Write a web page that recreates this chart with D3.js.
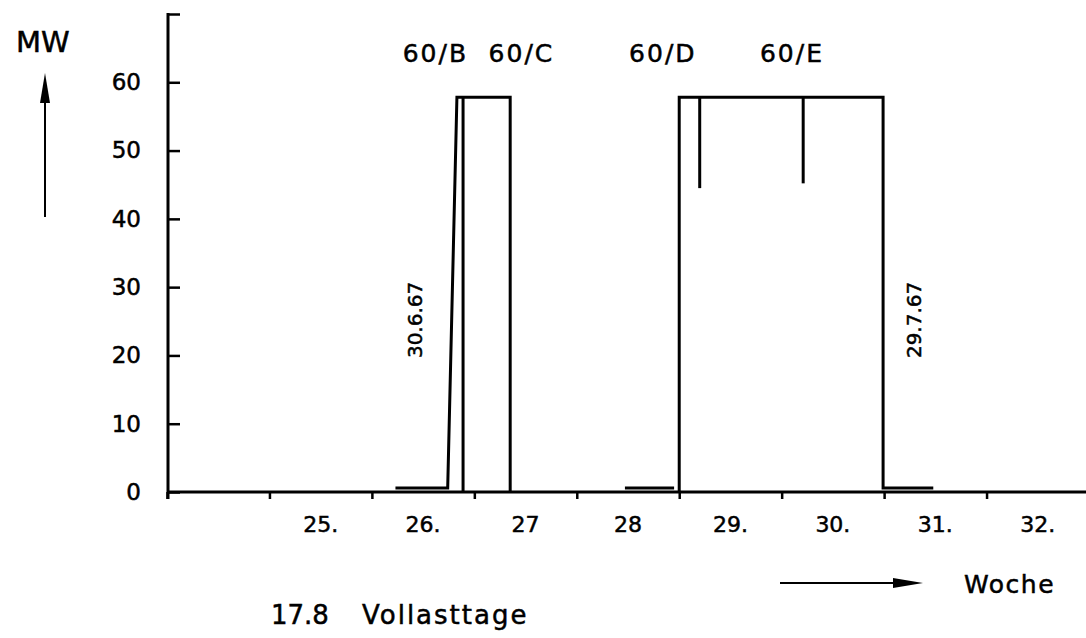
<!DOCTYPE html>
<html>
<head>
<meta charset="utf-8">
<script src="https://cdn.jsdelivr.net/npm/d3@7"></script>
<style>
  body { margin: 0; background: #fff; }
  svg text { font-family: "DejaVu Sans", sans-serif; fill: #000; stroke: #000; stroke-width: 0.5px; }
</style>
</head>
<body>
<div id="chart"></div>
<script>
"use strict";

/* <!-- Data: weeks on x, MW on y --> */
const weekTicks = [24, 25, 26, 27, 28, 29, 30, 31, 32];
const weekLabels = ["25.", "26.", "27", "28", "29.", "30.", "31.", "32."];
const weekLabelAt = [25, 26, 27, 28, 29, 30, 31, 32];
const mwTicks = [0, 10, 20, 30, 40, 50, 60, 70];

/* <!-- Load traces (week, MW) --> */
const runB = [[26.23, 0.6], [26.74, 0.6], [26.83, 57.8], [27.35, 57.8], [27.35, 0]];
const runC = [[26.89, 0], [26.89, 57.8]];
const idleD = [[28.47, 0.6], [28.95, 0.6]];
const runDE = [[29.0, 0], [29.0, 57.8], [30.99, 57.8], [30.99, 0.6], [31.48, 0.6]];
const dips = [[29.2, 44.5], [30.21, 45.2]];

/* <!-- Annotations --> */
const runNames = ["60/B", "60/C", "60/D", "60/E"];
const runNameWeeks = [26.62, 27.46, 28.84, 30.1];
const dateNames = ["30.6.67", "29.7.67"];
const dateWeeks = [26.42, 31.29];

var width = 1086, height = 638;

var svg = d3.select("#chart").append("svg")
  .attr("width", width).attr("height", height)
  .style("background", "#fff");

/* <!-- Scales --> */
const x = d3.scaleLinear().domain([24, 33]).range([167, 1089]);
const y = d3.scaleLinear().domain([0, 70]).range([492, 14]);

/* <!-- X axis --> */
var gx = svg.append("g").attr("transform", `translate(0,${y(0)})`)
  .call(d3.axisBottom(x).tickValues(weekTicks).tickSizeInner(7).tickSizeOuter(0).tickFormat(""));
gx.select(".domain").remove();
gx.selectAll(".tick line").attr("stroke", "#000").attr("stroke-width", 2.5);
svg.append("line")
  .attr("x1", x(24)).attr("x2", width).attr("y1", y(0)).attr("y2", y(0))
  .attr("stroke", "#000").attr("stroke-width", 3);

svg.append("g").selectAll("text").data(weekLabels).join("text")
  .attr("x", (d, i) => x(weekLabelAt[i] + 0.5))
  .attr("y", 532)
  .attr("text-anchor", "middle")
  .style("font-size", "22px")
  .text(d => d);

/* <!-- Y axis --> */
var gy = svg.append("g").attr("transform", `translate(${x(24) + 1},0)`)
  .call(d3.axisLeft(y).tickValues(mwTicks).tickSizeInner(-12).tickSizeOuter(0).tickPadding(27)
    .tickFormat(d => d < 70 ? d : ""));
gy.select(".domain").remove();
gy.attr("font-family", null).attr("font-size", null);
gy.selectAll(".tick line").attr("stroke", "#000").attr("stroke-width", 2.5);
gy.selectAll(".tick text").style("font-size", "23px").attr("fill", "#000");
svg.append("line")
  .attr("x1", x(24) + 1).attr("x2", x(24) + 1).attr("y1", y(70) - 1).attr("y2", y(0) + 7)
  .attr("stroke", "#000").attr("stroke-width", 3);

/* <!-- Traces --> */
var line = d3.line().x(d => x(d[0])).y(d => y(d[1]));
svg.append("g").selectAll("path").data([runB, runC, idleD, runDE]).join("path")
  .attr("d", line)
  .attr("fill", "none")
  .attr("stroke", "#000")
  .attr("stroke-width", 3)
  .attr("stroke-linejoin", "miter");

svg.append("g").selectAll("line").data(dips).join("line")
  .attr("x1", d => x(d[0])).attr("x2", d => x(d[0]))
  .attr("y1", y(57.8)).attr("y2", d => y(d[1]))
  .attr("stroke", "#000").attr("stroke-width", 3);

/* <!-- Run labels --> */
svg.append("g").selectAll("text").data(runNames).join("text")
  .attr("x", (d, i) => x(runNameWeeks[i]))
  .attr("y", 62)
  .attr("text-anchor", "middle")
  .style("font-size", "25px")
  .style("letter-spacing", "2px")
  .text(d => d);

svg.append("g").selectAll("text").data(dateNames).join("text")
  .attr("transform", (d, i) => `translate(${x(dateWeeks[i]) + 7},${y(25.2)}) rotate(-90)`)
  .attr("text-anchor", "middle")
  .style("font-size", "20px")
  .text(d => d);

/* <!-- Axis titles and arrows --> */
svg.append("text").attr("x", 16).attr("y", 52).style("font-size", "29px").text("MW");
svg.append("line").attr("x1", 45).attr("x2", 45).attr("y1", 217).attr("y2", 100)
  .attr("stroke", "#000").attr("stroke-width", 2);
svg.append("path").attr("d", "M45,73 L50,103 L40,103 Z").attr("fill", "#000");

svg.append("text").attr("x", 964).attr("y", 593).style("font-size", "25px")
  .style("letter-spacing", "1.5px").text("Woche");
svg.append("line").attr("x1", 780).attr("x2", 900).attr("y1", 583).attr("y2", 583)
  .attr("stroke", "#000").attr("stroke-width", 2);
svg.append("path").attr("d", "M923,583 L893,578 L893,588 Z").attr("fill", "#000");

svg.append("text").attr("x", 271).attr("y", 624).style("font-size", "26px").text("17.8");
svg.append("text").attr("x", 362).attr("y", 624).style("font-size", "26px")
  .style("letter-spacing", "2px").text("Vollasttage");
</script>
</body>
</html>
